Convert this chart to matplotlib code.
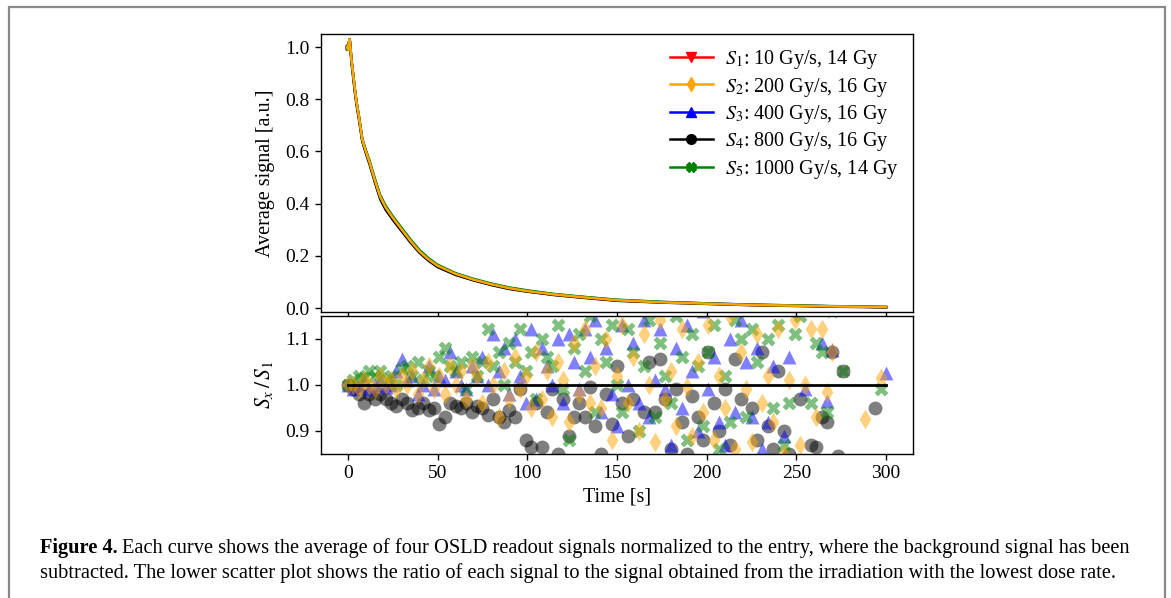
import numpy as np
import matplotlib
matplotlib.use("Agg")
import matplotlib.pyplot as plt
from matplotlib.patches import Rectangle

plt.rcParams['font.family'] = ['Liberation Serif', 'DejaVu Serif']
plt.rcParams['mathtext.fontset'] = 'stix'
plt.rcParams['font.size'] = 14

# averaged signal curves (time in s)
tc = [0, 1, 2, 3, 4, 5, 6, 8, 10, 12, 15, 18, 21, 25, 30, 35, 40, 45, 50, 60,
      70, 80, 90, 100, 115, 130, 150, 175, 200, 225, 250, 275, 300]
s1 = [1.00, 1.03, 0.95, 0.89, 0.83, 0.78, 0.74, 0.645, 0.60, 0.56, 0.49, 0.425, 0.385, 0.345, 0.30, 0.255, 0.215, 0.185, 0.161, 0.13,
      0.108, 0.090, 0.075, 0.064, 0.051, 0.041, 0.029, 0.022, 0.017, 0.012, 0.009, 0.006, 0.004]
s2 = [1.00, 1.03, 0.95, 0.89, 0.83, 0.78, 0.74, 0.645, 0.60, 0.56, 0.49, 0.426, 0.386, 0.346, 0.301, 0.256, 0.216, 0.186, 0.162, 0.131,
      0.109, 0.091, 0.076, 0.065, 0.052, 0.042, 0.030, 0.022, 0.017, 0.012, 0.009, 0.006, 0.004]
s3 = [1.00, 1.03, 0.95, 0.89, 0.83, 0.78, 0.74, 0.646, 0.602, 0.562, 0.492, 0.428, 0.388, 0.348, 0.303, 0.258, 0.218, 0.188, 0.163, 0.132,
      0.110, 0.092, 0.077, 0.066, 0.053, 0.043, 0.031, 0.023, 0.018, 0.013, 0.010, 0.006, 0.004]
s4 = [1.00, 1.03, 0.94, 0.88, 0.82, 0.77, 0.73, 0.638, 0.593, 0.552, 0.482, 0.417, 0.377, 0.338, 0.294, 0.25, 0.211, 0.181, 0.157, 0.127,
      0.106, 0.088, 0.073, 0.063, 0.050, 0.040, 0.028, 0.021, 0.016, 0.011, 0.008, 0.005, 0.003]
s5 = [1.00, 1.03, 0.95, 0.89, 0.83, 0.78, 0.74, 0.648, 0.605, 0.566, 0.497, 0.433, 0.393, 0.352, 0.307, 0.262, 0.222, 0.191, 0.166, 0.134,
      0.112, 0.094, 0.079, 0.068, 0.054, 0.044, 0.032, 0.024, 0.018, 0.013, 0.010, 0.007, 0.004]

labels = [r'$S_1$: 10 Gy/s, 14 Gy', r'$S_2$: 200 Gy/s, 16 Gy', r'$S_3$: 400 Gy/s, 16 Gy',
          r'$S_4$: 800 Gy/s, 16 Gy', r'$S_5$: 1000 Gy/s, 14 Gy']
colors = ['red', 'orange', 'blue', 'black', 'green']
markers = ['v', 'd', '^', 'o', 'X']

# ratios S_x / S_1, one sample every 3 s
step = 3
r2 = [1.0, 1.0, 0.99, 1.01, 1.0, 0.99, 1.02, 1.0, 1.01, 0.99, 1.02, 1.0, 1.03, 0.98, 1.01, 1.04, 0.99, 1.02, 0.98, 1.04,
      1.0, 1.03, 0.97, 1.04, 1.02, 0.96, 1.05, 1.0, 0.93, 1.03, 0.97, 1.06, 0.99, 1.02, 0.95, 1.07, 0.97, 1.03, 0.93, 1.05,
      1.01, 0.92, 1.09, 0.98, 1.12, 0.96, 1.04, 0.95, 1.10, 0.88, 1.02, 1.13, 0.96, 1.06, 0.90, 1.11, 1.0, 0.875, 1.14, 0.97,
      1.03, 0.91, 1.12, 0.995, 0.89, 1.05, 0.94, 1.13, 0.88, 1.02, 0.95, 1.15, 0.86, 1.07, 0.99, 0.875, 1.11, 0.96, 1.02, 0.92,
      1.12, 0.85, 1.01, 1.14, 0.87, 1.0, 1.12, 0.93, 1.12, 0.985, 1.07, 0.83, 1.22, 0.80, 1.20, 0.82, 0.925, 1.23, 0.78, 1.015,
      1.21]
r3 = [1.0, 0.99, 1.0, 1.01, 0.99, 1.0, 1.01, 0.995, 1.0, 1.03, 1.055, 1.01, 1.02, 0.98, 1.0, 1.04, 0.99, 1.02, 1.01, 1.07,
      1.03, 1.0, 0.99, 1.04, 1.02, 1.06, 1.0, 1.11, 1.03, 1.08, 0.98, 1.10, 1.02, 0.96, 1.12, 0.97, 1.08, 1.04, 1.0, 1.10,
      0.96, 1.11, 1.05, 0.99, 1.12, 1.06, 1.14, 0.94, 1.08, 0.98, 0.91, 1.13, 1.0, 1.09, 0.96, 1.14, 0.93, 1.01, 1.12, 0.99,
      0.87, 1.08, 0.95, 1.13, 1.03, 0.90, 1.16, 0.99, 1.06, 0.92, 0.87, 1.10, 0.94, 1.14, 1.05, 0.93, 1.08, 0.86, 0.92, 1.04,
      1.19, 0.89, 1.06, 0.84, 1.22, 0.99, 1.17, 0.82, 1.09, 0.965, 1.075, 0.80, 1.24, 0.78, 1.20, 0.81, 1.25, 0.83, 1.18, 0.79,
      1.025]
r4 = [1.0, 0.99, 0.98, 0.96, 0.98, 0.97, 0.98, 0.97, 0.96, 0.955, 0.97, 0.96, 0.945, 0.95, 0.96, 0.945, 0.95, 0.915, 0.93, 0.96,
      0.955, 0.95, 0.96, 0.94, 0.955, 0.95, 0.935, 0.97, 0.93, 0.92, 0.945, 0.93, 0.99, 0.88, 0.865, 0.96, 0.865, 0.94, 0.99, 0.85,
      0.97, 0.89, 0.93, 0.96, 0.93, 0.995, 0.91, 0.85, 0.98, 0.915, 1.04, 0.96, 0.89, 0.97, 0.83, 0.94, 1.05, 0.94, 1.055, 0.97,
      0.86, 0.99, 0.92, 0.85, 0.975, 0.93, 0.88, 1.07, 0.96, 0.90, 0.99, 0.87, 1.055, 0.97, 0.82, 0.95, 0.88, 1.07, 0.91, 0.86,
      1.03, 0.90, 0.85, 1.16, 0.97, 0.80, 0.87, 0.865, 0.93, 0.92, 1.07, 0.845, 1.03, 1.18, 0.82, 1.20, 0.80, 0.78, 0.95, 1.22,
      0.76]
r5 = [1.0, 1.01, 1.02, 1.015, 1.03, 1.02, 1.03, 1.01, 1.02, 1.0, 1.035, 1.04, 1.02, 1.05, 1.01, 1.03, 1.02, 1.06, 1.08, 1.04,
      1.03, 1.05, 0.99, 1.06, 1.02, 1.05, 1.12, 1.04, 1.07, 1.0, 1.09, 1.05, 1.12, 1.03, 1.07, 0.97, 1.10, 1.06, 1.04, 1.13,
      0.99, 0.88, 1.08, 1.11, 1.03, 1.15, 0.94, 1.10, 1.05, 1.13, 1.0, 0.94, 1.12, 1.07, 0.90, 1.04, 1.14, 0.93, 1.09, 1.02,
      0.96, 1.15, 1.06, 0.88, 1.11, 1.04, 0.91, 1.07, 1.13, 0.86, 1.02, 0.92, 1.14, 1.10, 0.93, 1.12, 1.05, 0.84, 1.10, 0.95,
      1.13, 0.87, 0.96, 1.11, 1.15, 0.83, 0.96, 1.09, 1.07, 0.94, 1.16, 0.81, 1.03, 1.17, 0.79, 1.20, 0.82, 1.22, 0.80, 0.99,
      1.21]

W, H = 1171, 598
fig = plt.figure(figsize=(W / 100, H / 100), dpi=100)
ax1 = fig.add_axes([321 / W, 1 - 312 / H, (913 - 321) / W, (312 - 34) / H])
ax2 = fig.add_axes([321 / W, 1 - 454 / H, (913 - 321) / W, (454 - 315.5) / H], sharex=ax1)

curves = [s1, s2, s3, s4, s5]
handles = [None] * 5
for i in [0, 2, 3, 4, 1]:
    ln, = ax1.plot(tc, curves[i], color=colors[i], lw=1.8, marker=markers[i], ms=3.5,
                   markevery=[0], label=labels[i])
    handles[i] = ln
ax1.legend(handles=handles, loc='upper right', frameon=False, handlelength=2.15,
           handletextpad=0.6, labelspacing=0.22, fontsize=14.5, markerscale=2.0,
           borderaxespad=0.3)
ax1.set_ylabel('Average signal [a.u.]', fontsize=14.5)
ax1.set_yticks([0.0, 0.2, 0.4, 0.6, 0.8, 1.0])
ax1.set_ylim(-0.015, 1.05)
ax1.tick_params(labelbottom=False)

ratios = {1: r2, 2: r3, 3: r4, 4: r5}
for i in [3, 2, 4, 1]:
    r = ratios[i]
    t = step * np.arange(len(r))
    ax2.scatter(t, r, color=colors[i], marker=markers[i], s=100, alpha=0.5, lw=0)
ax2.plot([0, 300], [1, 1], color='black', lw=2)
ax2.set_ylim(0.85, 1.15)
ax2.set_yticks([0.9, 1.0, 1.1])
ax2.set_xlim(-15, 315)
ax2.set_xticks([0, 50, 100, 150, 200, 250, 300])
ax2.set_xlabel('Time [s]', fontsize=14.5)
ax2.set_ylabel(r'$S_x\,/\,S_1$', fontsize=15.5)

for ax in (ax1, ax2):
    ax.yaxis.set_label_coords(-0.077, 0.5)
    ax.tick_params(length=4.5, width=1.0)
    for sp in ax.spines.values():
        sp.set_linewidth(1.0)

# outer frame
fig.add_artist(Rectangle((8.5 / W, -0.05), (1164.5 - 8.5) / W, 1.05 - 7 / H,
                         transform=fig.transFigure, fill=False, ec='#8a8a8a', lw=1.6, clip_on=False))

# caption, font size chosen so the first line spans the same width as the original
line1 = ('Each curve shows the average of four OSLD readout signals normalized to the entry, '
         'where the background signal has been')
line2 = ('subtracted. The lower scatter plot shows the ratio of each signal to the signal obtained '
         'from the irradiation with the lowest dose rate.')
fs = 12.5
x0 = 40 / W
r = fig.canvas.get_renderer()
bold = fig.text(x0, 1 - 548 / H, 'Figure 4.', fontsize=fs, fontweight='bold', va='center')
t1 = fig.text(0, 1 - 548 / H, line1, fontsize=fs, va='center')
wsum = bold.get_window_extent(r).width + 4 + t1.get_window_extent(r).width
fs = fs * (1132 - 40) / wsum
bold.set_fontsize(fs)
t1.set_fontsize(fs)
bw = bold.get_window_extent(r).width
t1.set_x(x0 + (bw + 4) / W)
t2 = fig.text(x0, 1 - 573 / H, line2, fontsize=fs, va='center')

fig.savefig('out.png', dpi=100)
